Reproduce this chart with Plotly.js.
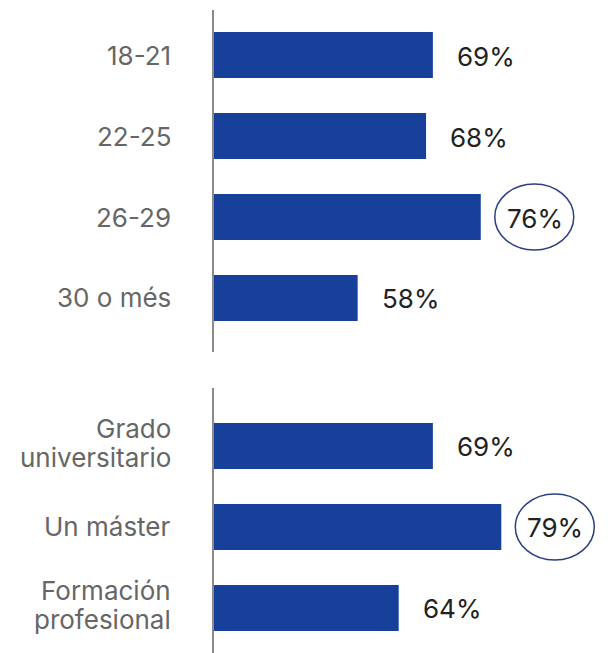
<!DOCTYPE html>
<html>
<head>
<meta charset="utf-8">
<script src="https://cdn.plot.ly/plotly-3.0.1.min.js"></script>
<style>html,body{margin:0;padding:0;background:#fff;}</style>
</head>
<body>
<div id="chart" style="width:608px;height:653px;"></div>
<script>
// ---- data ----
const ageCats = ['18-21', '22-25', '26-29', '30 o més'];
const ageVals = [69, 68, 76, 58];
const eduCats = ['Grado<br>universitario', 'Un máster', 'Formación<br>profesional'];
const eduVals = [69, 79, 64];
const highlighted = ['26-29', 'Un máster'];

// ---- style ----
const FONT = 'Inter, "Noto Sans", "DejaVu Sans", sans-serif';
const BAR = '#17409a';
const CAT_COLOR = '#666666';
const VAL_COLOR = '#222222';
const AXIS_COLOR = '#8a8a8a';
const CIRCLE_COLOR = '#2c3f82';
const FS = 26;
const LINE_GAP = 29;

function bars(cats, vals, xa, ya) {
  return {
    type: 'bar', orientation: 'h',
    x: vals, y: cats.map((c, i) => i),
    xaxis: xa, yaxis: ya,
    marker: {color: BAR, line: {width: 0}},
    hoverinfo: 'skip', showlegend: false
  };
}

const annotations = [];
const shapes = [];
function addLabels(cats, vals, xref, yref) {
  cats.forEach((c, i) => {
    const lines = c.split('<br>');
    lines.forEach((ln, k) => {
      annotations.push({
        xref: 'paper', yref: yref, x: 0, y: i,
        xanchor: 'right', yanchor: 'middle', xshift: -41,
        yshift: ((lines.length - 1) / 2 - k) * LINE_GAP + (lines.length > 1 ? 3 : 0),
        text: ln, showarrow: false, align: 'right',
        font: {family: FONT, size: FS, color: CAT_COLOR}
      });
    });
    const hl = highlighted.indexOf(c) >= 0;
    annotations.push({
      xref: xref, yref: yref, x: vals[i], y: i,
      xanchor: hl ? 'center' : 'left', yanchor: 'middle',
      xshift: hl ? 54 : 22, yshift: -1,
      text: vals[i] + '%', showarrow: false,
      font: {family: FONT, size: FS, color: VAL_COLOR}
    });
    if (hl) {
      shapes.push({
        type: 'circle', xref: xref, yref: yref,
        xsizemode: 'pixel', ysizemode: 'pixel',
        xanchor: vals[i], yanchor: i,
        x0: 14, x1: 93, y0: -33, y1: 33,
        line: {color: CIRCLE_COLOR, width: 1.5},
        fillcolor: 'rgba(0,0,0,0)'
      });
    }
  });
}
addLabels(ageCats, ageVals, 'x', 'y');
addLabels(eduCats, eduVals, 'x2', 'y2');

const xCommon = {range: [37, 94.6], showgrid: false, zeroline: false, showline: false,
  showticklabels: false, ticks: '', fixedrange: true, domain: [0, 1]};
const yCommon = {type: 'linear', showgrid: false, zeroline: false, showline: true,
  linecolor: AXIS_COLOR, linewidth: 2, showticklabels: false, ticks: '', fixedrange: true};

const layout = {
  width: 608, height: 653,
  margin: {l: 214, r: 0, t: 10, b: 0},
  paper_bgcolor: '#ffffff', plot_bgcolor: '#ffffff',
  bargap: 0.43,
  xaxis: Object.assign({}, xCommon, {anchor: 'y'}),
  xaxis2: Object.assign({}, xCommon, {anchor: 'y2'}),
  yaxis: Object.assign({}, yCommon, {domain: [0.4681, 1], range: [3.667, -0.556], anchor: 'x'}),
  yaxis2: Object.assign({}, yCommon, {domain: [0, 0.4121], range: [2.556, -0.716], anchor: 'x2'}),
  annotations: annotations,
  shapes: shapes,
  font: {family: FONT}
};

Plotly.newPlot('chart', [bars(ageCats, ageVals, 'x', 'y'), bars(eduCats, eduVals, 'x2', 'y2')],
  layout, {displayModeBar: false, staticPlot: true});
</script>
</body>
</html>
